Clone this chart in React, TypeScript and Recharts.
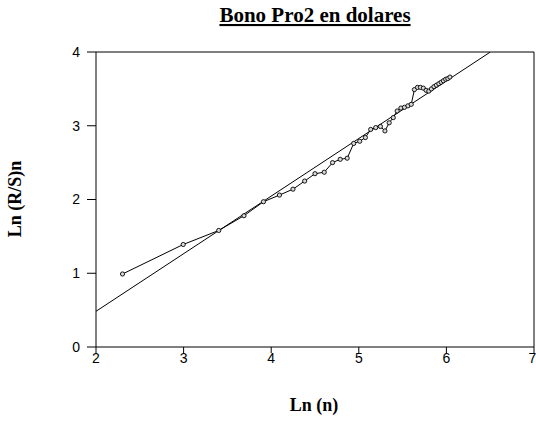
import React from 'react';
import { ScatterChart, Scatter, XAxis, YAxis, ReferenceLine } from 'recharts';

// Ln(n) para n = 10, 20, ..., 420
const nValues = [
  10, 20, 30, 40, 50, 60, 70, 80, 90, 100,
  110, 120, 130, 140, 150, 160, 170, 180, 190, 200,
  210, 220, 230, 240, 250, 260, 270, 280, 290, 300,
  310, 320, 330, 340, 350, 360, 370, 380, 390, 400,
  410, 420,
];

// Ln (R/S)n
const lnRS = [
  0.99, 1.39, 1.58, 1.78, 1.97, 2.06, 2.14, 2.25, 2.35, 2.37,
  2.50, 2.545, 2.56, 2.76, 2.79, 2.84, 2.95, 2.975, 2.99, 2.93,
  3.04, 3.11, 3.20, 3.24, 3.25, 3.27, 3.29, 3.49, 3.52, 3.52,
  3.51, 3.48, 3.47, 3.50, 3.53, 3.55, 3.57, 3.59, 3.61, 3.63,
  3.64, 3.66,
];

const xTicks = [2, 3, 4, 5, 6, 7];
const yTicks = [0, 1, 2, 3, 4];

// recta de regresion
const intercept = -1.078;
const slope = 0.781;

const points = nValues.map((n, i) => ({ x: Math.log(n), y: lnRS[i] }));

const xStart = 2;
const xEnd = Math.min(7, (4 - intercept) / slope);
const fitSegment = [
  { x: xStart, y: intercept + slope * xStart },
  { x: xEnd, y: intercept + slope * xEnd },
];

const Dot = (props: any) => {
  const { cx, cy } = props;
  return <circle cx={cx} cy={cy} r={2.1} fill="#d8d8d8" stroke="#000" strokeWidth={0.9} />;
};

const tickStyle = { fill: '#000', fontSize: 14, fontFamily: '"Liberation Sans", Arial, sans-serif' };
const serif = '"Liberation Serif", "Times New Roman", serif';

export default function App() {
  return (
    <div style={{ position: 'absolute', left: 0, top: 0, width: 536, height: 423, background: '#fff' }}>
      <ScatterChart width={536} height={423} margin={{ top: 52, right: 2, bottom: 46, left: 0 }}>
        <XAxis
          type="number"
          dataKey="x"
          domain={[2, 7]}
          ticks={xTicks}
          allowDataOverflow
          height={30}
          stroke="#000"
          tickSize={6}
          tickMargin={0}
          tick={tickStyle}
          tickLine={{ stroke: '#000' }}
        />
        <YAxis
          type="number"
          dataKey="y"
          domain={[0, 4]}
          ticks={yTicks}
          allowDataOverflow
          width={96}
          stroke="#000"
          tickSize={9}
          tickMargin={7}
          tick={tickStyle}
          tickLine={{ stroke: '#000' }}
        />
        <ReferenceLine y={4} stroke="#000" strokeWidth={1} />
        <ReferenceLine x={7} stroke="#000" strokeWidth={1} />
        <ReferenceLine segment={fitSegment} stroke="#000" strokeWidth={1} ifOverflow="hidden" />
        <Scatter
          data={points}
          line={{ stroke: '#000', strokeWidth: 1 }}
          shape={<Dot />}
          isAnimationActive={false}
        />
      </ScatterChart>
      <svg
        width={536}
        height={423}
        style={{ position: 'absolute', left: 0, top: 0, pointerEvents: 'none' }}
      >
        <text
          x={315}
          y={22}
          textAnchor="middle"
          fontFamily={serif}
          fontWeight="bold"
          fontSize={21}
          textDecoration="underline"
          fill="#000"
        >
          Bono Pro2 en dolares
        </text>
        <text x={314} y={411} textAnchor="middle" fontFamily={serif} fontWeight="bold" fontSize={18} fill="#000">
          Ln (n)
        </text>
        <text
          x={21}
          y={199}
          transform="rotate(-90 21 199)"
          textAnchor="middle"
          fontFamily={serif}
          fontWeight="bold"
          fontSize={18}
          fill="#000"
        >
          Ln (R/S)n
        </text>
      </svg>
    </div>
  );
}
